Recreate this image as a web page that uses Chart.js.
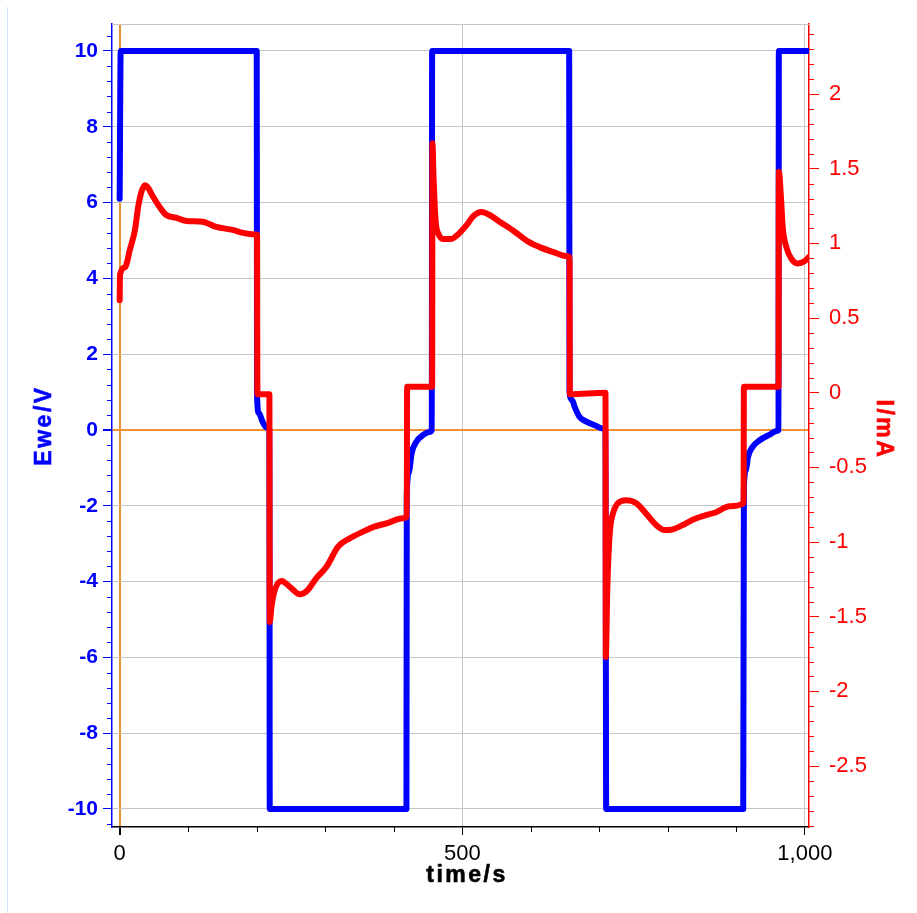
<!DOCTYPE html>
<html>
<head>
<meta charset="utf-8">
<script src="https://cdn.jsdelivr.net/npm/chart.js@4.4.0/dist/chart.umd.min.js"></script>
<style>
  body { margin: 0; background: #fff; }
  #grafico { position: absolute; left: 0; top: 0; }
  .marco { position: absolute; left: 7px; top: 7px; bottom: 0; border-left: 1px solid #d3e4f5; }
</style>
</head>
<body>
<div class="marco"></div>
<canvas id="grafico" width="917" height="913"></canvas>
<script>
// potencial del electrodo (s, V)
const tEwe = [0, 1.5, 200, 200.5, 203, 209, 214, 218.5, 219,
  418.5, 419, 422, 426, 433, 443, 452, 455.5, 456,
  656, 656.5, 660, 664, 671, 681, 695, 705, 709, 710,
  910, 911, 914, 917, 924, 934, 948, 960, 961.5, 962, 1006];
const ewe = [6.1, 10, 10, 0.9, 0.45, 0.2, 0.07, 0, -10,
  -10, -1.7, -1.14, -0.62, -0.31, -0.13, -0.05, 0, 10,
  10, 1.0, 0.8, 0.61, 0.35, 0.22, 0.11, 0.04, 0, -10,
  -10, -1.5, -1.06, -0.71, -0.44, -0.27, -0.13, -0.02, 0, 10, 10];

// corriente (s, mA)
const tCorriente = [0, 0.5, 7.7, 15, 22.3, 27.2, 32.1, 37, 41.8, 49, 58.8, 68, 83, 98, 121, 141, 165, 180, 197, 200.5,
  201, 218.5,
  219, 221.6, 226.5, 236.2, 248.3, 262.9, 272.7, 287.3, 301.8, 318.8, 335.8, 355.2, 369.8, 389.3, 413.5, 419,
  419.5, 456,
  456.5, 458, 459.8, 461.5, 464.6, 471.9, 484, 493.8, 506, 515.6, 527.8, 540, 554.5, 576, 597, 613, 634, 652, 656.5,
  657, 709,
  709.5, 711.5, 713.5, 716, 719.8, 727, 739.3, 754, 768.4, 783, 795, 807, 821.8, 836.4, 851, 870.5, 890, 910.5,
  911, 961.5,
  962, 965.3, 967.6, 972.6, 979.9, 989.5, 999.3, 1006];
const corriente = [0.62, 0.79, 0.84, 0.96, 1.09, 1.25, 1.35, 1.39, 1.37, 1.31, 1.24, 1.19, 1.17, 1.15, 1.145, 1.11, 1.09, 1.07, 1.06, 1.06,
  -0.01, -0.01,
  -1.535, -1.43, -1.32, -1.26, -1.30, -1.35, -1.33, -1.24, -1.165, -1.03, -0.975, -0.93, -0.90, -0.875, -0.84, -0.83,
  0.04, 0.04,
  1.67, 1.45, 1.25, 1.13, 1.07, 1.03, 1.03, 1.06, 1.12, 1.18, 1.21, 1.19, 1.145, 1.08, 1.01, 0.975, 0.94, 0.915, 0.91,
  -0.01, 0,
  -1.77, -1.34, -1.075, -0.90, -0.81, -0.74, -0.72, -0.74, -0.81, -0.886, -0.92, -0.915, -0.886, -0.85, -0.826, -0.80, -0.76, -0.74,
  0.04, 0.04,
  1.48, 1.29, 1.11, 0.98, 0.90, 0.866, 0.88, 0.91];

// marcas de los ejes
const ticksTiempo = [0, 500, 1000];
const ticksEwe = [-10, -8, -6, -4, -2, 0, 2, 4, 6, 8, 10];
const ticksCorriente = [-2.5, -2, -1.5, -1, -0.5, 0, 0.5, 1, 1.5, 2];

const fuente = '"Liberation Sans", Arial, sans-serif';
const azul = 'rgb(0,0,255)';
const rojo = 'rgb(255,0,0)';
const naranja = 'rgb(240,145,50)';
const gris = '#c6c6c6';

function texto(ctx, t, x, y, rot, color) {
  ctx.save();
  ctx.translate(x, y);
  ctx.rotate(rot);
  ctx.font = 'bold 23px ' + fuente;
  ctx.letterSpacing = '2.5px';
  ctx.fillStyle = color;
  ctx.strokeStyle = color;
  ctx.lineWidth = 0.6;
  ctx.textAlign = 'center';
  ctx.textBaseline = 'middle';
  ctx.fillText(t, 0, 0);
  ctx.strokeText(t, 0, 0);
  ctx.restore();
}

// titulos con espaciado + marcas menores + borde de arriba
const extras = {
  id: 'extras',
  afterDraw(chart) {
    const ctx = chart.ctx;
    const a = chart.chartArea;
    const {x, y, y1} = chart.scales;
    ctx.save();
    ctx.lineWidth = 1;
    ctx.strokeStyle = gris;
    ctx.beginPath();
    ctx.moveTo(a.left, a.top + 0.5);
    ctx.lineTo(a.right, a.top + 0.5);
    ctx.stroke();

    ctx.strokeStyle = '#000';
    ctx.beginPath();
    for (let k = 1; k < 10; k++) {
      if (k % 5 === 0) continue;
      const px = Math.round(x.getPixelForValue(k * 100)) + 0.5;
      ctx.moveTo(px, a.bottom);
      ctx.lineTo(px, a.bottom + 5);
    }
    ctx.stroke();

    ctx.strokeStyle = azul;
    ctx.beginPath();
    for (let k = -26; k <= 26; k++) {
      if (k % 5 === 0) continue;
      const py = Math.round(y.getPixelForValue(k * 0.4)) + 0.5;
      if (py < a.top || py > a.bottom) continue;
      ctx.moveTo(a.left - 5, py);
      ctx.lineTo(a.left, py);
    }
    ctx.stroke();

    ctx.strokeStyle = rojo;
    ctx.beginPath();
    for (let k = -29; k <= 24; k++) {
      if (k % 5 === 0) continue;
      const py = Math.round(y1.getPixelForValue(k * 0.1)) + 0.5;
      if (py < a.top || py > a.bottom) continue;
      ctx.moveTo(a.right, py);
      ctx.lineTo(a.right + 5, py);
    }
    ctx.stroke();
    ctx.restore();

    const cy = (a.top + a.bottom) / 2;
    texto(ctx, 'Ewe/V', 45, cy, -Math.PI / 2, azul);
    texto(ctx, 'I/mA', 883, cy + 4, Math.PI / 2, rojo);
    texto(ctx, 'time/s', 467, 876, 0, '#000');
  }
};

new Chart(document.getElementById('grafico'), {
  type: 'line',
  data: {
    datasets: [
      {
        label: 'Ewe/V',
        data: tEwe.map((t, i) => ({x: t, y: ewe[i]})),
        yAxisID: 'y',
        borderColor: azul,
        borderWidth: 6,
        cubicInterpolationMode: 'monotone',
        order: 2
      },
      {
        label: 'I/mA',
        data: tCorriente.map((t, i) => ({x: t, y: corriente[i]})),
        yAxisID: 'y1',
        borderColor: rojo,
        borderWidth: 6,
        cubicInterpolationMode: 'monotone',
        order: 1
      }
    ]
  },
  options: {
    responsive: false,
    animation: false,
    layout: { padding: { top: 24, left: 0, right: 0, bottom: 0 } },
    elements: {
      point: { radius: 0 },
      line: { borderJoinStyle: 'round', borderCapStyle: 'round' }
    },
    plugins: { legend: { display: false }, tooltip: { enabled: false } },
    scales: {
      x: {
        type: 'linear',
        min: -11.2,
        max: 1006,
        afterBuildTicks: s => { s.ticks = ticksTiempo.map(v => ({value: v})); },
        afterFit: s => { s.height = 86; },
        grid: {
          color: c => c.tick && c.tick.value === 0 ? naranja : gris,
          lineWidth: c => c.tick && c.tick.value === 0 ? 2 : 1,
          tickColor: '#000',
          tickLength: 8
        },
        border: { color: '#000', width: 1.5 },
        ticks: {
          color: '#000',
          font: { family: fuente, size: 22 },
          padding: 6,
          maxRotation: 0,
          callback: v => v.toLocaleString('en-US')
        }
      },
      y: {
        position: 'left',
        min: -10.475,
        max: 10.712,
        afterBuildTicks: s => { s.ticks = ticksEwe.map(v => ({value: v})); },
        afterFit: s => { s.width = 112; },
        grid: {
          color: c => c.tick && c.tick.value === 0 ? naranja : gris,
          lineWidth: c => c.tick && c.tick.value === 0 ? 2 : 1,
          tickColor: azul,
          tickLength: 9
        },
        border: { color: azul, width: 1.5 },
        ticks: {
          color: azul,
          font: { family: fuente, size: 21, weight: 'bold' },
          padding: 5,
          callback: v => String(v)
        }
      },
      y1: {
        position: 'right',
        min: -2.908,
        max: 2.469,
        afterBuildTicks: s => { s.ticks = ticksCorriente.map(v => ({value: v})); },
        afterFit: s => { s.width = 108; },
        grid: { drawOnChartArea: false, tickColor: rojo, tickLength: 10 },
        border: { color: rojo, width: 1.5 },
        ticks: {
          color: rojo,
          font: { family: fuente, size: 22 },
          padding: 10,
          callback: v => String(v)
        }
      }
    }
  },
  plugins: [extras]
});
</script>
</body>
</html>
